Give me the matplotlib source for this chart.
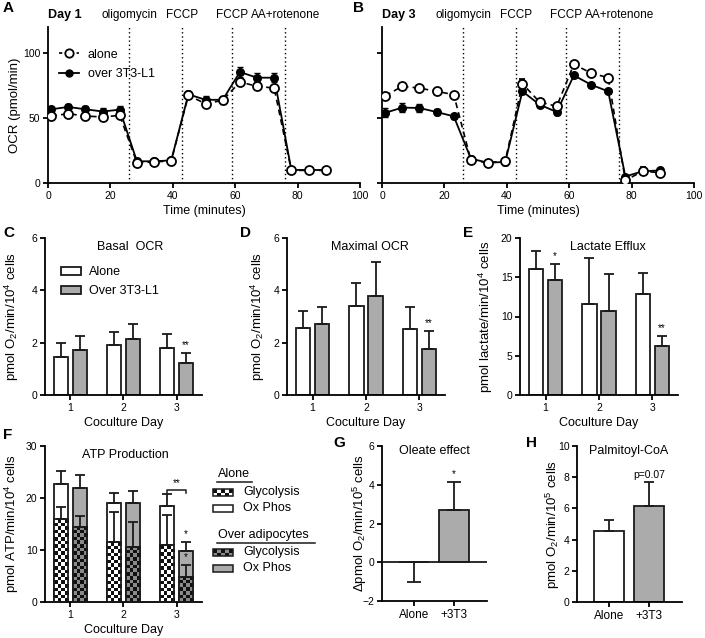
import numpy as np
import matplotlib
matplotlib.use('Agg')
import matplotlib.pyplot as plt
from matplotlib.colors import ListedColormap
from matplotlib.lines import Line2D
from matplotlib.patches import Rectangle

plt.rcParams['font.family'] = ['Liberation Sans', 'DejaVu Sans']
plt.rcParams['mathtext.fontset'] = 'custom'
plt.rcParams['mathtext.rm'] = 'Liberation Sans'
plt.rcParams['mathtext.it'] = 'Liberation Sans:italic'
plt.rcParams['font.size'] = 9
plt.rcParams['axes.linewidth'] = 1.3
plt.rcParams['xtick.major.width'] = 1.3
plt.rcParams['ytick.major.width'] = 1.3
plt.rcParams['xtick.major.size'] = 3.5
plt.rcParams['ytick.major.size'] = 3.5
plt.rcParams['xtick.labelsize'] = 7.5
plt.rcParams['ytick.labelsize'] = 7.5
plt.rcParams['xtick.major.pad'] = 2
plt.rcParams['ytick.major.pad'] = 2

# ---- Seahorse traces (panels A, B) ----
time = [1, 6.5, 12, 17.5, 23, 28.5, 34, 39.5, 45, 50.5, 56, 61.5, 67, 72.5,
        78, 83.5, 89]
injections = [26, 43, 59, 76]
inj_labels = ['oligomycin', 'FCCP', 'FCCP', 'AA+rotenone']

a_alone = [51.5, 53.3, 51.5, 50.8, 52, 15.6, 16.2, 17, 67.4, 61, 63.6, 77.7,
           74.4, 73, 9.7, 9.7, 9.7]
a_alone_err = [1.5, 1.5, 1.5, 1.5, 2, 1, 1, 1, 2, 2, 2, 2, 2, 2, 1, 1, 1]
a_over = [56.7, 58.5, 56.7, 55, 56.4, 16.7, 16.7, 17.4, 68.2, 64, 64, 85.4,
          81, 81, 10, 10, 10]
a_over_err = [2, 2, 2.5, 2.5, 3, 1.5, 1.5, 1.5, 2.5, 3, 3, 3.5, 3.5, 3.5,
              1, 1, 1]

b_alone = [67, 74.4, 73, 70.5, 68, 17.4, 15.6, 17, 76.4, 62.3, 59, 91.3,
           84.6, 81, 2, 9, 8]
b_alone_err = [1.5, 1.5, 1.5, 1.5, 1.5, 2, 2, 2, 3.5, 2, 2, 2, 2, 2, 1.5,
               3, 3]
b_over = [54, 58, 57.7, 54.6, 51.3, 18.7, 15.6, 16.2, 70.5, 60.3, 54.6, 82.8,
          75.6, 70.5, 5, 9, 9.7]
b_over_err = [3.5, 3.5, 3, 2.5, 2, 2, 2, 2.5, 2, 2, 2, 1.5, 1.5, 1.5, 1.5,
              2, 2]

# ---- bar panels (C, D, E) ----
days = [1, 2, 3]
basal_alone = [1.45, 1.9, 1.8]
basal_alone_err = [0.52, 0.5, 0.55]
basal_over = [1.72, 2.15, 1.22]
basal_over_err = [0.55, 0.55, 0.4]

max_alone = [2.57, 3.42, 2.53]
max_alone_err = [0.65, 0.85, 0.85]
max_over = [2.72, 3.77, 1.74]
max_over_err = [0.66, 1.32, 0.72]

lact_alone = [16.0, 11.6, 12.9]
lact_alone_err = [2.3, 5.8, 2.6]
lact_over = [14.6, 10.7, 6.2]
lact_over_err = [2.1, 4.7, 1.3]

# ---- ATP production (F) ----
atp_alone_total = [22.7, 19.0, 18.4]
atp_alone_total_err = [2.4, 1.9, 2.3]
atp_alone_gly = [15.9, 11.5, 10.9]
atp_alone_gly_err = [2.3, 5.9, 5.8]
atp_over_total = [22.0, 19.0, 9.9]
atp_over_total_err = [2.5, 2.3, 1.7]
atp_over_gly = [14.5, 10.6, 4.9]
atp_over_gly_err = [2.1, 4.8, 2.2]

# ---- G, H ----
groups = ['Alone', '+3T3']
oleate = [0.0, 2.68]
oleate_err_low = [1.0, 0.0]
oleate_err_high = [0.0, 1.46]
palm = [4.57, 6.17]
palm_err = [0.68, 1.5]

GREY = '#ababab'
EDGE = '#1a1a1a'
YLAB = 9.5
W, H = 705, 638

fig = plt.figure(figsize=(W / 100, H / 100), dpi=100)


def add_ax(left, top, right, bottom):
    """Axes placed by pixel box of the reference."""
    ax = fig.add_axes([left / W, 1 - bottom / H, (right - left) / W,
                       (bottom - top) / H])
    ax.spines['top'].set_visible(False)
    ax.spines['right'].set_visible(False)
    return ax


def letter(x, y, s):
    fig.text(x / W, 1 - y / H, s, fontsize=11, fontweight='bold',
             ha='left', va='center')


def trace_panel(ax, alone, alone_err, over, over_err, day):
    ax.errorbar(time, over, yerr=over_err, color='black', lw=1.3,
                marker='o', ms=5.5, mfc='black', mec='black', capsize=2.5,
                elinewidth=1.1, label='over 3T3-L1', zorder=3)
    ax.errorbar(time, alone, yerr=alone_err, color='black', lw=1.2,
                ls=(0, (3.5, 2.5)), marker='o', ms=6.5, mfc='white',
                mec='black', mew=1.3, capsize=2.5, elinewidth=1.1,
                label='alone', zorder=4)
    trans = ax.get_xaxis_transform()
    for t, lab in zip(injections, inj_labels):
        ax.axvline(t, color='black', ls=(0, (1, 2)), lw=1.0, zorder=1)
        ax.text(t, 1.077, lab, transform=trans, ha='center', va='center',
                fontsize=8.5)
    ax.text(0, 1.077, day, transform=trans, ha='left', va='center',
            fontsize=9, fontweight='bold')
    ax.set_xlim(0, 100)
    ax.set_ylim(0, 120)
    ax.set_xticks([0, 20, 40, 60, 80, 100])
    ax.set_yticks([0, 50, 100])
    ax.set_xlabel('Time (minutes)', fontsize=9, labelpad=3)


def up_err(ax, x, y, err, zorder=4):
    ax.errorbar(x, y, yerr=[np.zeros(len(err)), err], fmt='none',
                ecolor=EDGE, elinewidth=1.3, capsize=3.5, capthick=1.3,
                zorder=zorder)


def bar_panel(ax, alone, alone_err, over, over_err):
    d = np.array(days)
    ax.bar(d - 0.18, alone, 0.27, color='white', edgecolor=EDGE, lw=1.3,
           label='Alone', zorder=2)
    ax.bar(d + 0.18, over, 0.27, color=GREY, edgecolor=EDGE, lw=1.3,
           label='Over 3T3-L1', zorder=2)
    up_err(ax, d - 0.18, alone, alone_err)
    up_err(ax, d + 0.18, over, over_err)
    ax.set_xlim(0.52, 3.48)
    ax.set_xticks(days)
    ax.set_xlabel('Coculture Day', fontsize=9, labelpad=3)


def star(ax, x, y, s, size=7):
    ax.annotate(s, (x, y), xytext=(0, 2), textcoords='offset points',
                ha='center', va='bottom', fontsize=size)


def checker(ax, x0, x1, y0, y1, nx, ny, c1, c2, zorder=2):
    arr = np.add.outer(np.arange(ny), np.arange(nx)) % 2
    ax.imshow(arr, extent=(x0, x1, y0, y1), cmap=ListedColormap([c1, c2]),
              interpolation='nearest', aspect='auto', origin='lower',
              zorder=zorder)


# ---------------- A ----------------
axA = add_ax(48, 27, 360, 183)
trace_panel(axA, a_alone, a_alone_err, a_over, a_over_err, 'Day 1')
axA.set_ylabel('OCR (pmol/min)', fontsize=YLAB)
axA.yaxis.set_label_coords(-0.085, 0.5)
hA = [Line2D([], [], color='black', ls=(0, (2, 1.5)), lw=1.2, marker='o',
             ms=6, mfc='white', mec='black', mew=1.3),
      Line2D([], [], color='black', lw=1.3, marker='o', ms=5, mfc='black')]
axA.legend(hA, ['alone', 'over 3T3-L1'], loc='upper left',
           bbox_to_anchor=(0.015, 0.9), frameon=False, fontsize=9,
           handlelength=1.6, handletextpad=0.7, labelspacing=0.6,
           borderpad=0)
letter(3, 8, 'A')

# ---------------- B ----------------
axB = add_ax(382, 27, 694, 183)
trace_panel(axB, b_alone, b_alone_err, b_over, b_over_err, 'Day 3')
axB.set_yticklabels([])
letter(353, 8, 'B')

# ---------------- C ----------------
axC = add_ax(45, 238, 202, 395)
bar_panel(axC, basal_alone, basal_alone_err, basal_over, basal_over_err)
axC.set_ylim(0, 6)
axC.set_yticks([0, 2, 4, 6])
star(axC, 3.18, basal_over[2] + basal_over_err[2], '**')
axC.text(0.54, 0.94, 'Basal  OCR', transform=axC.transAxes, ha='center',
         va='center', fontsize=9)
axC.set_ylabel(r'pmol O$_2$/min/10$^4$ cells', fontsize=YLAB)
axC.yaxis.set_label_coords(-0.15, 0.5)
axC.legend(loc='upper left', bbox_to_anchor=(0.06, 0.86), frameon=False,
           fontsize=9, handlelength=1.6, handleheight=0.6,
           handletextpad=0.7, labelspacing=0.55, borderpad=0)
letter(3, 233, 'C')

# ---------------- D ----------------
axD = add_ax(287, 238, 445, 395)
bar_panel(axD, max_alone, max_alone_err, max_over, max_over_err)
axD.set_ylim(0, 6)
axD.set_yticks([0, 2, 4, 6])
star(axD, 3.18, max_over[2] + max_over_err[2], '**')
axD.text(0.525, 0.94, 'Maximal OCR', transform=axD.transAxes, ha='center',
         va='center', fontsize=9)
axD.set_ylabel(r'pmol O$_2$/min/10$^4$ cells', fontsize=YLAB)
axD.yaxis.set_label_coords(-0.127, 0.5)
letter(240, 233, 'D')

# ---------------- E ----------------
axE = add_ax(520, 238, 678, 395)
bar_panel(axE, lact_alone, lact_alone_err, lact_over, lact_over_err)
axE.set_ylim(0, 20)
axE.set_yticks([0, 5, 10, 15, 20])
star(axE, 1.18, lact_over[0] + lact_over_err[0], '*')
star(axE, 3.18, lact_over[2] + lact_over_err[2], '**')
axE.text(0.557, 0.94, 'Lactate Efflux', transform=axE.transAxes,
         ha='center', va='center', fontsize=9)
axE.set_ylabel(r'pmol lactate/min/10$^4$ cells', fontsize=YLAB)
axE.yaxis.set_label_coords(-0.158, 0.5)
letter(463, 233, 'E')

# ---------------- F ----------------
axF = add_ax(45, 446, 202, 602)
d = np.array(days)
px_per_unit = 156 / 30.0
for i, day in enumerate(days):
    for off, tot, gly, face, dark in [
            (-0.18, atp_alone_total[i], atp_alone_gly[i], 'white', 'white'),
            (0.18, atp_over_total[i], atp_over_gly[i], GREY, '#8a8a8a')]:
        x0 = day + off - 0.135
        x1 = day + off + 0.135
        axF.bar(day + off, tot, 0.27, color=face, edgecolor=EDGE, lw=1.3,
                zorder=1)
        ny = max(1, int(round(gly * px_per_unit / 3.6)))
        checker(axF, x0, x1, 0, gly, 4, ny, dark, '#111111', zorder=2)
        axF.bar(day + off, gly, 0.27, color='none', edgecolor=EDGE, lw=1.3,
                zorder=3)
up_err(axF, d - 0.18, atp_alone_total, atp_alone_total_err)
up_err(axF, d + 0.18, atp_over_total, atp_over_total_err)
up_err(axF, d - 0.18, atp_alone_gly, atp_alone_gly_err)
up_err(axF, d + 0.18, atp_over_gly, atp_over_gly_err)
star(axF, 3.18, atp_over_total[2] + atp_over_total_err[2], '*')
star(axF, 3.18, atp_over_gly[2] + atp_over_gly_err[2], '*')
yb = 21.5
axF.plot([2.82, 2.82, 3.18, 3.18], [yb - 0.6, yb, yb, yb - 0.6],
         color=EDGE, lw=1.1, zorder=4)
axF.text(3.0, yb + 0.4, '**', ha='center', va='bottom', fontsize=7)
axF.set_xlim(0.52, 3.48)
axF.set_ylim(0, 30)
axF.set_xticks(days)
axF.set_yticks([0, 10, 20, 30])
axF.set_xlabel('Coculture Day', fontsize=9, labelpad=3)
axF.set_ylabel(r'pmol ATP/min/10$^4$ cells', fontsize=YLAB)
axF.yaxis.set_label_coords(-0.15, 0.5)
axF.text(0.51, 0.94, 'ATP Production', transform=axF.transAxes,
         ha='center', va='center', fontsize=9)
letter(3, 435, 'F')

# legend for F, laid out in pixel units
axL = add_ax(205, 455, 325, 580)
axL.axis('off')
axL.text(218, 474, 'Alone', fontsize=9, va='center', ha='left')
axL.plot([217, 252], [482, 482], color=EDGE, lw=1.1)
axL.text(218, 535, 'Over adipocytes', fontsize=9, va='center', ha='left')
axL.plot([217, 315], [543, 543], color=EDGE, lw=1.1)
for yc, lab, kind in [(492, 'Glycolysis', 'white'), (508, 'Ox Phos', 'white'),
                      (552, 'Glycolysis', GREY), (568, 'Ox Phos', GREY)]:
    if lab == 'Glycolysis':
        c1 = 'white' if kind == 'white' else '#8a8a8a'
        checker(axL, 213, 233, yc + 3.5, yc - 3.5, 5, 2, c1, '#111111')
        axL.add_patch(Rectangle((213, yc - 3.5), 20, 7, fc='none',
                                ec=EDGE, lw=1.1, zorder=3))
    else:
        axL.add_patch(Rectangle((213, yc - 3.5), 20, 7, fc=kind, ec=EDGE,
                                lw=1.1, zorder=3))
    axL.text(243, yc, lab, fontsize=9, va='center', ha='left')
axL.set_xlim(205, 325)
axL.set_ylim(580, 455)

# ---------------- G ----------------
axG = add_ax(382, 446, 487, 601)
gx = np.arange(len(groups))
axG.bar(gx, oleate, 0.75, color=['white', GREY], edgecolor=EDGE, lw=1.3,
        zorder=2)
axG.errorbar(gx, oleate, yerr=[oleate_err_low, oleate_err_high], fmt='none',
             ecolor=EDGE, elinewidth=1.3, capsize=5, capthick=1.3, zorder=3)
axG.axhline(0, color=EDGE, lw=1.3, zorder=4)
star(axG, 1, oleate[1] + oleate_err_high[1], '*')
axG.set_xlim(-0.8, 1.825)
axG.set_ylim(-2, 6)
axG.set_yticks([-2, 0, 2, 4, 6])
axG.set_xticks(gx)
axG.set_xticklabels(groups, fontsize=8.5)
axG.set_ylabel(r'$\Delta$pmol O$_2$/min/10$^5$ cells', fontsize=YLAB)
axG.yaxis.set_label_coords(-0.123, 0.5)
axG.text(0.5, 0.97, 'Oleate effect', transform=axG.transAxes, ha='center',
         va='center', fontsize=9)
letter(333, 443, 'G')

# ---------------- H ----------------
axH = add_ax(577, 446, 682, 602)
axH.bar(gx, palm, 0.75, color=['white', GREY], edgecolor=EDGE, lw=1.3,
        zorder=2)
up_err(axH, gx, palm, palm_err)
axH.annotate('p=0.07', (1, palm[1] + palm_err[1]), xytext=(0, 1.5),
             textcoords='offset points', ha='center', va='bottom',
             fontsize=7.5)
axH.set_xlim(-0.8, 1.825)
axH.set_ylim(0, 10)
axH.set_yticks([0, 2, 4, 6, 8, 10])
axH.set_xticks(gx)
axH.set_xticklabels(groups, fontsize=8.5)
axH.set_ylabel(r'pmol O$_2$/min/10$^5$ cells', fontsize=YLAB)
axH.yaxis.set_label_coords(-0.142, 0.5)
axH.text(0.49, 0.97, 'Palmitoyl-CoA', transform=axH.transAxes, ha='center',
         va='center', fontsize=9)
letter(526, 443, 'H')

fig.savefig('out.png', dpi=100)
